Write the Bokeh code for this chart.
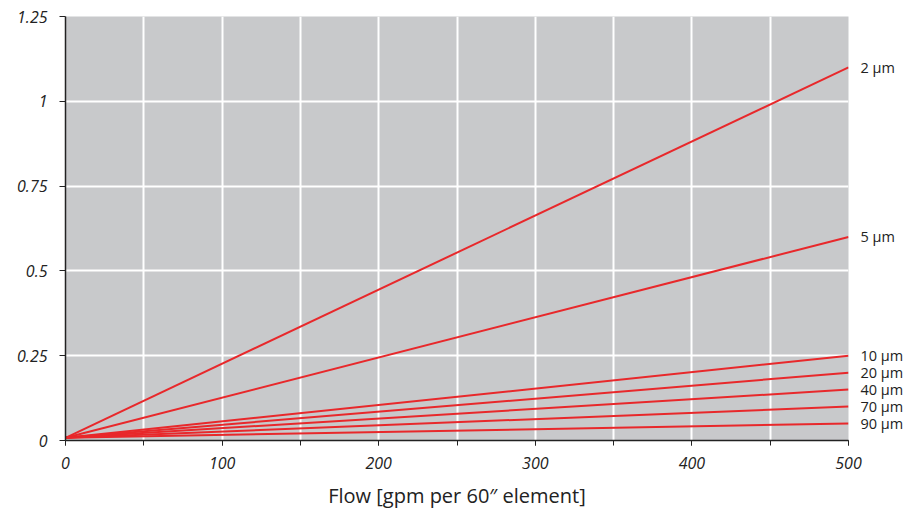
from bokeh.plotting import figure
from bokeh.models import FixedTicker, LinearAxis, Range1d
from bokeh.embed import file_html
from bokeh.resources import INLINE

# Data
series = ["2 µm", "5 µm", "10 µm", "20 µm", "40 µm", "70 µm", "90 µm"]
flow = [0, 500]
start_dp = 0.008
end_dp = [1.1, 0.6, 0.25, 0.2, 0.15, 0.1, 0.05]
x_ticks = [0, 100, 200, 300, 400, 500]
x_minor = [50, 150, 250, 350, 450]
y_ticks = [0, 0.25, 0.5, 0.75, 1, 1.25]
y_labels = ["0", "0.25", "0.5", "0.75", "1", "1.25"]

FONT = "Open Sans"
RED = "#e8282b"

p = figure(frame_width=783, frame_height=424, output_backend="svg", toolbar_location=None,
           x_range=Range1d(0, 500), y_range=Range1d(0, 1.25),
           min_border_left=65, min_border_right=5, min_border_top=16, min_border_bottom=10)
p.background_fill_color = "#c8c9cb"
p.outline_line_color = None

for name, e in zip(series, end_dp):
    p.line(flow, [start_dp, e], line_color=RED, line_width=2)

# x axis
xa = p.xaxis[0]
xa.ticker = FixedTicker(ticks=x_ticks, minor_ticks=x_minor + x_ticks)
xa.axis_label = "Flow [gpm per 60″ element]"
xa.axis_label_text_font = FONT
xa.axis_label_text_font_style = "normal"
xa.axis_label_text_font_size = "20px"
xa.axis_label_text_color = "#222222"
xa.axis_label_standoff = 10
xa.major_label_text_font = FONT
xa.major_label_text_font_style = "italic"
xa.major_label_text_font_size = "16px"
xa.major_label_text_color = "#222222"
xa.major_label_standoff = 11
xa.axis_line_color = "#222222"
xa.axis_line_width = 1.5
xa.major_tick_line_color = "#222222"
xa.minor_tick_line_color = "#222222"
xa.major_tick_in = 0
xa.major_tick_out = 5
xa.minor_tick_in = 0
xa.minor_tick_out = 5

# y axis
ya = p.yaxis[0]
ya.ticker = FixedTicker(ticks=y_ticks, minor_ticks=[])
ya.major_label_overrides = {t: l for t, l in zip(y_ticks, y_labels)}
ya.major_label_text_font = FONT
ya.major_label_text_font_style = "italic"
ya.major_label_text_font_size = "16px"
ya.major_label_text_color = "#222222"
ya.major_label_standoff = 12
ya.axis_line_color = "#222222"
ya.axis_line_width = 1.5
ya.major_tick_line_color = "#222222"
ya.major_tick_in = 0
ya.major_tick_out = 6

# right-side series labels
ra = LinearAxis(ticker=FixedTicker(ticks=end_dp, minor_ticks=[]),
                major_label_overrides={e: n for e, n in zip(end_dp, series)})
ra.axis_line_color = None
ra.major_tick_line_color = None
ra.major_tick_in = 0
ra.major_tick_out = 0
ra.major_label_standoff = 12
ra.major_label_text_font = FONT
ra.major_label_text_font_size = "14.5px"
ra.major_label_text_color = "#222222"
p.add_layout(ra, "right")

# grid
p.xgrid.ticker = FixedTicker(ticks=x_ticks, minor_ticks=x_minor)
p.xgrid.grid_line_color = "white"
p.xgrid.grid_line_width = 2
p.xgrid.minor_grid_line_color = "white"
p.xgrid.minor_grid_line_width = 2
p.ygrid.ticker = FixedTicker(ticks=y_ticks, minor_ticks=[])
p.ygrid.grid_line_color = "white"
p.ygrid.grid_line_width = 2

open("out.html", "w").write(file_html(p, INLINE))
